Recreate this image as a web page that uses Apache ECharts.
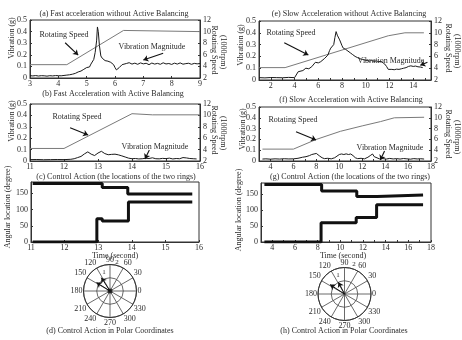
<!DOCTYPE html>
<html><head><meta charset="utf-8">
<script src="https://cdn.jsdelivr.net/npm/echarts/dist/echarts.min.js"></script>
<style>html,body{margin:0;padding:0;background:#fff}#c{width:462px;height:340px}</style>
</head><body><div id="c"></div>
<script>
// ---------- DATA ----------
// (a) fast acceleration without balancing
const aSpeed = [[3,4.3],[4.3,4.3],[6.3,10.2],[9,10.0]];
const aVib = [[3.0,.02],[3.1,.018],[3.2,.021],[3.3,.017],[3.4,.02],[3.5,.019],[3.6,.016],[3.7,.02],[3.8,.018],[3.9,.021],[4.0,.02],[4.1,.019],[4.2,.022],[4.3,.025],[4.4,.028],[4.5,.033],[4.6,.04],[4.7,.052],[4.8,.06],[4.9,.075],[5.0,.09],
  [5.05,.1],[5.1,.095],[5.15,.12],[5.2,.13],[5.25,.16],[5.3,.22],[5.35,.32],[5.38,.44],[5.41,.4],[5.45,.28],
  [5.5,.19],[5.55,.17],[5.6,.165],[5.65,.15],[5.7,.155],[5.75,.145],[5.8,.14],[5.85,.135],[5.9,.12],[5.95,.115],[6.0,.09],[6.05,.07],[6.1,.075],[6.15,.09],[6.2,.1],[6.25,.115],[6.3,.13],
  [6.4,.125],[6.5,.132],[6.6,.12],[6.7,.128],[6.8,.118],[6.9,.13],[7.0,.122],[7.1,.127],[7.2,.115],[7.3,.129],[7.4,.12],[7.5,.126],[7.6,.118],[7.7,.131],[7.8,.121],[7.9,.125],[8.0,.117],[8.1,.128],[8.2,.12],[8.3,.13],[8.4,.119],[8.5,.124],[8.6,.127],[8.7,.118],[8.8,.126],[8.9,.122],[9.0,.125]];
// (b) fast acceleration with balancing
const bSpeed = [[11,4.2],[12,4.2],[14,10.3],[14.6,10.1],[16,10.1]];
const bVib = [[11.0,.012],[11.2,.013],[11.4,.011],[11.6,.012],[11.8,.013],[12.0,.012],[12.2,.015],[12.3,.02],[12.4,.03],[12.5,.04],[12.55,.05],[12.6,.062],[12.65,.075],[12.7,.08],[12.75,.07],[12.8,.06],[12.85,.052],[12.9,.048],[12.95,.058],[13.0,.07],[13.05,.08],[13.1,.085],[13.15,.075],[13.2,.065],[13.25,.06],[13.3,.055],[13.35,.052],[13.4,.058],[13.45,.055],[13.5,.06],[13.55,.05],[13.6,.054],[13.65,.047],[13.7,.045],[13.75,.04],[13.8,.035],[13.85,.03],[13.9,.025],[14.0,.02],[14.1,.022],[14.2,.018],[14.3,.02],[14.4,.024],[14.5,.022],[14.6,.028],[14.7,.02],[14.8,.019],[14.9,.023],[15.0,.021],[15.1,.025],[15.2,.018],[15.3,.022],[15.4,.02],[15.5,.03],[15.6,.027],[15.7,.022],[15.8,.02],[15.9,.018]];
// (c) ring locations, fast
const cRing1 = [[11.05,180],[13.12,168],[13.88,148],[15.8,148]];
const cRing2 = [[11.05,0],[12.96,72],[13.12,65],[13.9,123],[15.8,123]];
// (e) slow acceleration without balancing
const eSpeed = [[1,4.1],[3.2,4.1],[11.9,9.5],[13.3,10.0],[14.9,10.0]];
const eVib = [[1.0,.02],[1.5,.018],[2,.021],[2.5,.02],[3,.019],[3.5,.022],[4,.02],[4.15,.03],[4.3,.07],[4.45,.085],[4.7,.08],[4.95,.1],[5.2,.095],[5.45,.113],[5.6,.11],[5.75,.15],[6.0,.145],[6.2,.155],[6.35,.17],[6.5,.18],[6.65,.19],[6.8,.21],[6.95,.25],[7.05,.27],[7.2,.28],[7.3,.3],[7.4,.36],[7.5,.41],[7.6,.38],[7.7,.37],[7.8,.34],[7.9,.33],[8.0,.29],[8.1,.27],[8.3,.26],[8.5,.245],[8.7,.23],[8.9,.215],[9.1,.2],[9.3,.19],[9.5,.18],[9.7,.175],[9.9,.17],[10.1,.165],[10.3,.16],[10.5,.165],[10.7,.158],[10.9,.162],[11.1,.155],[11.3,.158],[11.45,.15],[11.6,.135],[11.75,.115],[11.9,.09],[12.0,.085],[12.2,.09],[12.4,.087],[12.6,.092],[12.8,.09],[13.0,.095],[13.2,.1],[13.4,.105],[13.6,.115],[13.8,.12],[14.0,.115],[14.2,.118],[14.4,.112],[14.6,.11],[14.8,.105]];
// (f) slow acceleration with balancing
const fSpeed = [[3.3,4.2],[6.0,4.2],[8.0,6.0],[10.1,7.5],[12.0,8.5],[13.6,9.3],[14.8,10.0],[17.4,10.1]];
const fVib = [[3.3,.018],[3.6,.02],[4,.017],[4.4,.02],[4.8,.018],[5.2,.021],[5.6,.019],[6,.02],[6.4,.025],[6.8,.035],[7.1,.04],[7.4,.05],[7.6,.06],[7.8,.065],[8.0,.07],[8.15,.06],[8.3,.045],[8.5,.03],[8.7,.022],[9.0,.025],[9.3,.02],[9.6,.03],[9.8,.045],[10.0,.06],[10.2,.065],[10.4,.06],[10.6,.066],[10.8,.06],[11.0,.065],[11.2,.05],[11.4,.03],[11.6,.022],[11.9,.025],[12.2,.02],[12.5,.035],[12.7,.05],[12.9,.065],[13.05,.04],[13.2,.025],[13.5,.02],[13.8,.022],[14.1,.018],[14.4,.024],[14.7,.019],[15.0,.022],[15.3,.018],[15.6,.023],[15.9,.02],[16.2,.017],[16.5,.022],[16.8,.019],[17.1,.021],[17.4,.018]];
// (g) ring locations, slow
const gRing1 = [[3.3,180],[8.35,160],[11.45,143],[13.25,147],[17.3,147]];
const gRing2 = [[3.3,0],[8.3,60],[11.4,77],[13.2,117],[17.3,117]];
// (d),(h) compass vectors [radius, angle deg]
const dArrows = [[1.2,148],[1.2,123]];
const hArrows = [[1.3,147],[1.0,117]];
// annotation arrows [x1,y1,x2,y2] in (time, vibration g)
const aArrows = [[4.24,0.304,4.70,0.198],[7.70,0.213,7.0,0.155]];
const bArrows = [[12.18,0.292,12.71,0.228],[14.51,0.096,14.38,0.018]];
const eArrows = [[3.13,0.316,5.16,0.212],[15.2,0.15,14.6,0.125]];
const fArrows = [[6.23,0.271,7.98,0.194],[13.95,0.093,13.58,0.009]];

// ---------- STYLE ----------
const FONT = 'Liberation Serif';
const TXT = '#2b2b2b';
const AX = '#333';

const chart = echarts.init(document.getElementById('c'), null, {renderer:'canvas'});

function grid(l,t,w,h){return {left:l,top:t,width:w,height:h,show:true,borderColor:AX,borderWidth:1,backgroundColor:'transparent'};}
function xAx(gi,min,max,evenOnly){
  return {type:'value',gridIndex:gi,min:min,max:max,interval:1,
    axisLine:{lineStyle:{color:AX}},axisTick:{inside:true,length:2,lineStyle:{color:AX}},
    splitLine:{show:false},
    axisLabel:{fontFamily:FONT,fontSize:8,color:TXT,margin:2,
      formatter:v=> evenOnly ? (v%2===0?String(v):'') : (Number.isInteger(v)?String(v):'')}};
}
function yAx(gi,min,max,iv,pos,showMax){
  return {type:'value',gridIndex:gi,min:min,max:max,interval:iv,position:pos,
    axisLine:{show:true,lineStyle:{color:AX}},axisTick:{inside:true,length:2,lineStyle:{color:AX}},
    splitLine:{show:false},
    axisLabel:{fontFamily:FONT,fontSize:8,color:TXT,margin:3,showMaxLabel:showMax!==false}};
}
function ln(xi,yi,data,color,width,extra){
  return Object.assign({type:'line',xAxisIndex:xi,yAxisIndex:yi,data:data,symbol:'none',showSymbol:false,
    animation:false,silent:true,lineStyle:{color:color,width:width},z:3},extra||{});
}
function arrows(list){
  return {silent:true,animation:false,symbol:['none','arrow'],symbolSize:5,
    lineStyle:{color:'#111',width:1.1,type:'solid'},label:{show:false},
    data:list.map(a=>[{coord:[a[0],a[1]]},{coord:[a[2],a[3]]}])};
}
function compass(pi,list){
  return list.map(a=>({type:'line',coordinateSystem:'polar',polarIndex:pi,animation:false,silent:true,
    lineStyle:{color:'#111',width:1},itemStyle:{color:'#111'},z:5,
    data:[{value:[0,a[1]],symbol:'none'},{value:[a[0],a[1]],symbol:'arrow',symbolSize:5,symbolRotate:a[1]-90}]}));
}
function T(text,x,y,o){
  o=o||{};
  return {type:'text',x:x,y:y,rotation:o.rot||0,silent:true,z:10,
    style:{text:text,fontFamily:FONT,fontSize:o.size||8,fill:TXT,textAlign:o.align||'center',textVerticalAlign:'middle',fontWeight:o.bold?'bold':'normal'}};
}
function angAx(pi){
  return {polarIndex:pi,type:'value',min:0,max:360,interval:30,startAngle:0,clockwise:false,
    axisLine:{lineStyle:{color:AX,width:1}},axisTick:{show:false},
    axisLabel:{fontFamily:FONT,fontSize:8,color:TXT,margin:1,formatter:v=>v===360?'':String(v)},
    splitLine:{show:true,lineStyle:{color:'#444',width:0.8}}};
}
function radAx(pi){
  return {polarIndex:pi,type:'value',min:0,max:2,interval:1,axisLine:{show:false},axisTick:{show:false},
    axisLabel:{show:false},splitLine:{show:true,lineStyle:{color:'#444',width:0.8}}};
}

const R = -Math.PI/2, L = Math.PI/2;
const option = {
  backgroundColor:'#fff',
  animation:false,
  grid:[grid(30,20,170,58),grid(30,104,170,57),grid(31,182,168,60),grid(259,21,172,59),grid(259,107,172,54),grid(261,183,170,59)],
  xAxis:[xAx(0,3,9,false),xAx(1,11,16,false),xAx(2,11,16,false),xAx(3,1,15.5,true),xAx(4,3,18,true),xAx(5,3,18,true)],
  yAxis:[yAx(0,0,0.5,0.1,'left'),yAx(0,2,12,2,'right'),
         yAx(1,0,0.5,0.1,'left'),yAx(1,2,12,2,'right'),
         yAx(2,0,185,50,'left',false),
         yAx(3,0,0.5,0.1,'left'),yAx(3,2,12,2,'right'),
         yAx(4,0,0.5,0.1,'left'),yAx(4,2,12,2,'right'),
         yAx(5,0,185,50,'left',false)],
  polar:[{center:[110,291],radius:26.5},{center:[344.5,294],radius:26.5}],
  angleAxis:[angAx(0),angAx(1)],
  radiusAxis:[radAx(0),radAx(1)],
  series:[
    ln(0,1,aSpeed,'#7a7a7a',1),
    ln(0,0,aVib,'#1a1a1a',1,{markLine:arrows(aArrows)}),
    ln(1,3,bSpeed,'#7a7a7a',1),
    ln(1,2,bVib,'#1a1a1a',1,{markLine:arrows(bArrows)}),
    ln(2,4,cRing1,'#111',3,{step:'end'}),
    ln(2,4,cRing2,'#111',3,{step:'end'}),
    ln(3,6,eSpeed,'#7a7a7a',1),
    ln(3,5,eVib,'#1a1a1a',1,{markLine:arrows(eArrows)}),
    ln(4,8,fSpeed,'#7a7a7a',1),
    ln(4,7,fVib,'#1a1a1a',1,{markLine:arrows(fArrows)}),
    ln(5,9,gRing1,'#111',3,{step:'end'}),
    ln(5,9,gRing2,'#111',3,{step:'end'}),
    ...compass(0,dArrows),
    ...compass(1,hArrows),
    {type:'scatter',coordinateSystem:'polar',polarIndex:0,data:[[0,0]],symbolSize:5,itemStyle:{color:'#111'},silent:true,animation:false}
  ],
  graphic:[
    T('(a) Fast acceleration without Active Balancing',114,14),
    T('(b) Fast Acceleration with Active Balancing',113,94),
    T('(c) Control Action (the locations of the two rings)',116,177),
    T('(e) Slow Acceleration without Active Balancing',349,14),
    T('(f) Slow Acceleration with Active Balancing',351,100),
    T('(g) Control Action (the locations of the two rings)',350,177),
    T('Time (second)',115,256),
    T('Time (second)',343,256),
    T('(d) Control Action in Polar Coordinates',110,331),
    T('(h) Control Action in Polar Coordinates',344,331),
    T('Vibration (g)',12,38,{rot:L}),
    T('Vibration (g)',12,121,{rot:L}),
    T('Angular location (degree)',8,207,{rot:L}),
    T('Vibration (g)',241,45,{rot:L}),
    T('Vibration (g)',243,129,{rot:L}),
    T('Angular location (degree)',239,210,{rot:L}),
    T('Rotating Speed',214,50,{rot:R}),
    T('(1000rpm)',223,52,{rot:R}),
    T('Rotating Speed',214,130,{rot:R}),
    T('(1000rpm)',223,133,{rot:R}),
    T('Rotating Speed',448,48,{rot:R}),
    T('(1000rpm)',457,51,{rot:R}),
    T('Rotating Speed',448,134,{rot:R}),
    T('(1000rpm)',457,137,{rot:R}),
    T('Rotating Speed',64,35),
    T('Vibration Magnitude',152,47),
    T('Rotating Speed',77,117),
    T('Vibration Magnitude',155,147),
    T('Rotating Speed',291,33),
    T('Vibration Magnitude',391,61),
    T('Rotating Speed',293,120),
    T('Vibration Magnitude',390,148),
    T('2',117,262,{size:7}),
    T('1',104,272,{size:7}),
    T('2',354,264,{size:7}),
    T('1',338,275,{size:7})
  ]
};
chart.setOption(option);
</script></body></html>
